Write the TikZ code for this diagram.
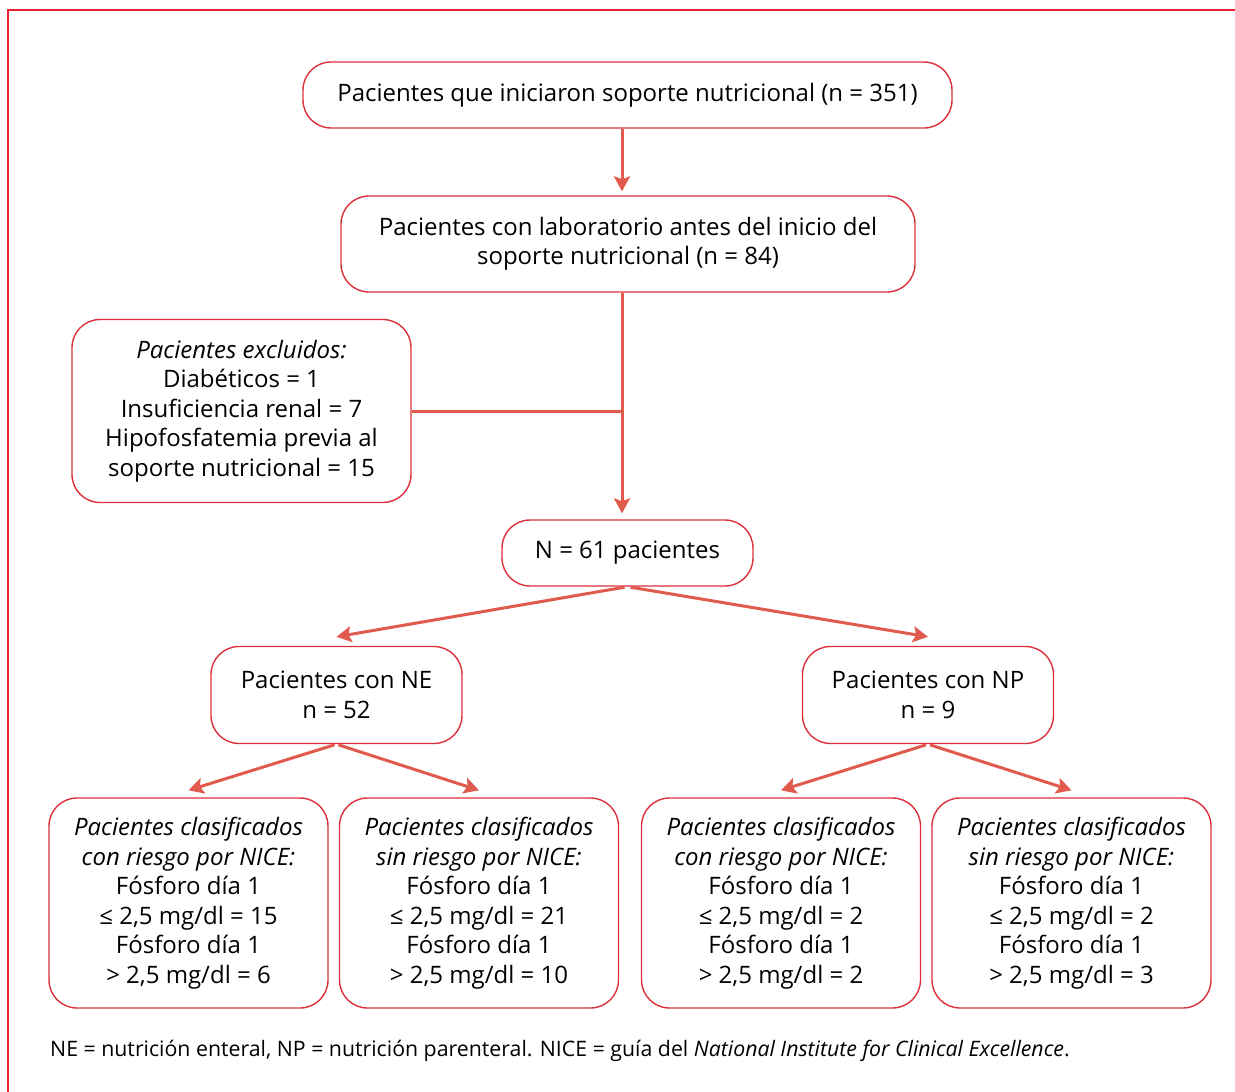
\documentclass[tikz,border=0pt]{standalone}
\usepackage{fontspec}
\setmainfont{Open Sans}
\usetikzlibrary{arrows.meta}
\definecolor{rojocaja}{HTML}{DC2F3C}
\definecolor{rojoflecha}{HTML}{E05A4D}
\definecolor{rojomarco}{HTML}{E8202F}
\tikzset{
	every node/.style = {
		font=\fontsize{24}{29.5}\selectfont,
		align=center
	},
	caja/.style = {
		shape=rectangle,
		draw=rojocaja,
		line width=1.4pt,
		rounded corners=28pt,
		inner sep=0pt
	},
	flecha/.style = {
		draw=rojoflecha,
		line width=3pt,
		-{Stealth[length=15pt,width=16pt,inset=3pt]}
	},
	linea/.style = {
		draw=rojoflecha,
		line width=3pt
	},
	marco/.style = {
		draw=rojomarco,
		line width=1.6pt
	}
}

\begin{document}
\begin{tikzpicture}[x=1pt,y=-1pt]
	\useasboundingbox (0,0) rectangle (1235,1092);
	\draw[marco] (1235,10) -- (8,10) -- (8,1092);
	\coordinate (eje) at (622,0);

	\node[caja, minimum width=649pt, minimum height=66pt] (inicio) at (627.5,95)
		{Pacientes que iniciaron soporte nutricional (n = 351)};
	\node[caja, minimum width=574pt, minimum height=96pt] (lab) at (628,244)
		{Pacientes con laboratorio antes del inicio del\\soporte nutricional (n = 84)};
	\node[caja, minimum width=339pt, minimum height=183pt] (excl) at (241.5,411)
		{\textit{Pacientes excluidos:}\\Diabéticos = 1\\Insuficiencia renal = 7\\Hipofosfatemia previa al\\soporte nutricional = 15};
	\node[caja, minimum width=251pt, minimum height=66pt] (total) at (627.5,553)
		{N = 61 pacientes};
	\node[caja, minimum width=251pt, minimum height=97pt] (ne) at (336.5,695)
		{Pacientes con NE\\n = 52};
	\node[caja, minimum width=251pt, minimum height=97pt] (np) at (928,695)
		{Pacientes con NP\\n = 9};
	\node[caja, minimum width=279pt, minimum height=210pt] (neriesgo) at (188.5,903)
		{\textit{Pacientes clasificados}\\\textit{con riesgo por NICE:}\\Fósforo día 1\\≤ 2,5 mg/dl = 15\\Fósforo día 1\\> 2,5 mg/dl = 6};
	\node[caja, minimum width=279pt, minimum height=210pt] (nesin) at (479,903)
		{\textit{Pacientes clasificados}\\\textit{sin riesgo por NICE:}\\Fósforo día 1\\≤ 2,5 mg/dl = 21\\Fósforo día 1\\> 2,5 mg/dl = 10};
	\node[caja, minimum width=279pt, minimum height=210pt] (npriesgo) at (781,903)
		{\textit{Pacientes clasificados}\\\textit{con riesgo por NICE:}\\Fósforo día 1\\≤ 2,5 mg/dl = 2\\Fósforo día 1\\> 2,5 mg/dl = 2};
	\node[caja, minimum width=279pt, minimum height=210pt] (npsin) at (1071.5,903)
		{\textit{Pacientes clasificados}\\\textit{sin riesgo por NICE:}\\Fósforo día 1\\≤ 2,5 mg/dl = 2\\Fósforo día 1\\> 2,5 mg/dl = 3};
	\node[anchor=west, font=\fontsize{21.3}{26}\selectfont, inner sep=0pt] (nota) at (50,1051)
		{NE = nutrición enteral, NP = nutrición parenteral. NICE = guía del \textit{National Institute for Clinical Excellence}.};

	\draw[flecha, shorten >=4pt] (inicio.south -| eje) -- (lab.north -| eje);
	\draw[flecha, shorten >=6pt] (lab.south -| eje) -- (total.north -| eje);
	\draw[linea] (excl.east) -- (excl.east -| eje);
	\draw[flecha, shorten <=3pt] (total.south) -- ([yshift=9pt]ne.north);
	\draw[flecha, shorten <=3pt] (total.south) -- ([yshift=9pt]np.north);
	\draw[flecha, shorten <=2pt] (ne.south) -- ([yshift=7pt]neriesgo.north);
	\draw[flecha, shorten <=2pt] (ne.south) -- ([yshift=7pt]nesin.north);
	\draw[flecha, shorten <=2pt] (np.south) -- ([yshift=7pt]npriesgo.north);
	\draw[flecha, shorten <=2pt] (np.south) -- ([yshift=7pt]npsin.north);
\end{tikzpicture}
\end{document}
